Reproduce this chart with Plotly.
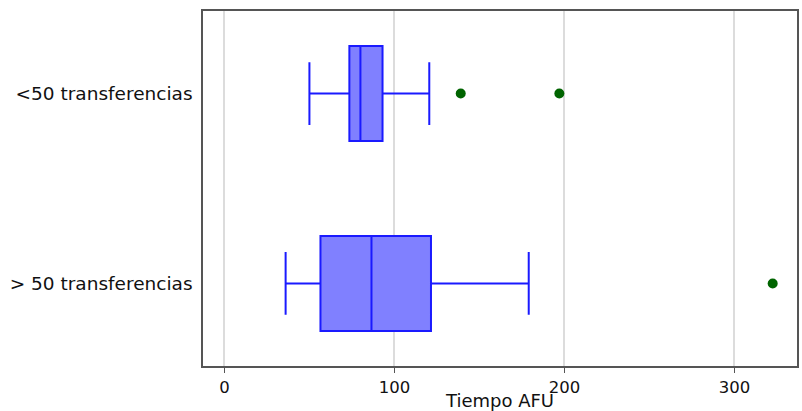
import plotly.graph_objects as go

categories = ["<50 transferencias", "> 50 transferencias"]
q1 = [73.5, 56.5]
median = [80, 86.5]
q3 = [93, 121.5]
lower_whisker = [50, 36]
upper_whisker = [120.5, 179]
outlier_cat = ["<50 transferencias", "<50 transferencias", "> 50 transferencias"]
outlier_val = [139, 197, 322.5]
x_ticks = [0, 100, 200, 300]

fig = go.Figure()
fig.add_trace(go.Box(
    y=categories, q1=q1, median=median, q3=q3,
    lowerfence=lower_whisker, upperfence=upper_whisker,
    orientation="h", boxpoints=False,
    fillcolor="#8080ff", line=dict(color="#1a1aff", width=2),
    width=0.5, whiskerwidth=0.66, showlegend=False,
))
fig.add_trace(go.Scatter(
    x=outlier_val, y=outlier_cat, mode="markers",
    marker=dict(color="#006400", size=10), showlegend=False,
))

fig.update_layout(
    width=802, height=411,
    margin=dict(l=203, r=5, t=11, b=45),
    plot_bgcolor="white", paper_bgcolor="white",
    font=dict(family="DejaVu Sans, Liberation Sans, Arial, sans-serif", size=17, color="#111"),
)
fig.update_xaxes(
    range=[-12.6, 336.8], tickvals=x_ticks,
    showgrid=True, gridcolor="#dcdcdc", gridwidth=1.5,
    showline=True, linecolor="#555", linewidth=1.5, mirror=True,
    ticks="outside", ticklen=5, tickcolor="#555", zeroline=False,
    tickfont=dict(size=16.5),
    title=dict(text="Tiempo AFU", standoff=0, font=dict(size=18)),
    automargin=False,
)
fig.update_yaxes(
    categoryorder="array", categoryarray=categories,
    range=[1.435, -0.435], type="category",
    showgrid=False, showline=True, linecolor="#555", linewidth=1.5, mirror=True,
    ticks="", ticklabelstandoff=5, zeroline=False, automargin=False,
    tickfont=dict(size=18.5),
)

fig.write_html(
    "out.html",
    config={"displayModeBar": False},
    post_script="document.body.style.margin='0';document.body.style.overflow='hidden';",
)
